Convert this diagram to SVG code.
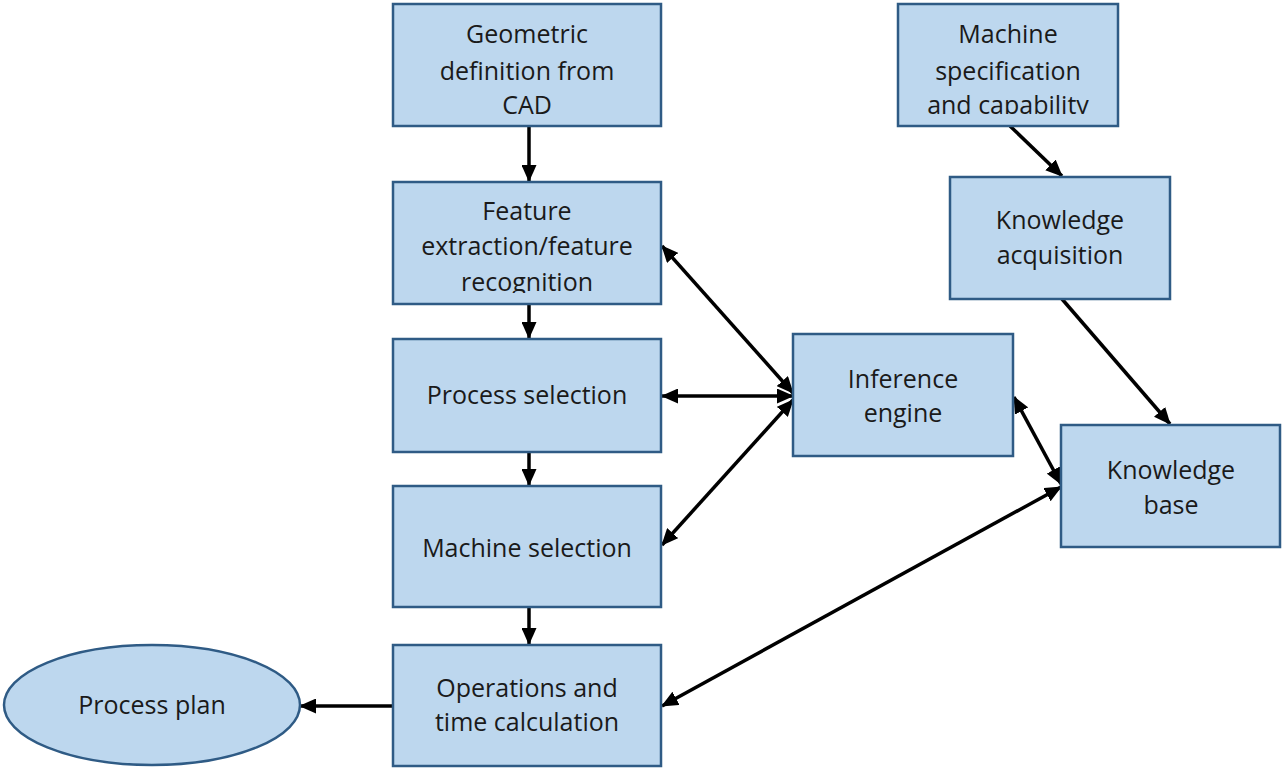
<svg xmlns="http://www.w3.org/2000/svg" width="1282" height="769" viewBox="0 0 1282 769">
<style>
.box{fill:#BDD7EE;stroke:#2F5B85;stroke-width:2.5}
.t{font-family:"Open Sans","Liberation Sans",sans-serif;font-size:25px;fill:#1a1a1a;text-anchor:middle}
.c{stroke:#000;stroke-width:3.5;fill:none}
</style>
<defs>
<marker id="ah" markerUnits="userSpaceOnUse" markerWidth="17" markerHeight="15" refX="16" refY="7.5" orient="auto-start-reverse" viewBox="0 0 17 15">
<path d="M0,0 L17,7.5 L0,15 Z" fill="#000"/>
</marker>
<clipPath id="clipFeat"><rect x="393" y="183" width="268" height="110"/></clipPath>
<clipPath id="clipSpec"><rect x="899" y="5" width="219" height="109"/></clipPath>
</defs>
<rect width="1282" height="769" fill="#fff"/>
<g id="connectors">
<line class="c" x1="529" y1="127" x2="529" y2="181" marker-end="url(#ah)"/>
<line class="c" x1="529" y1="304" x2="529" y2="338" marker-end="url(#ah)"/>
<line class="c" x1="529" y1="452" x2="529" y2="485" marker-end="url(#ah)"/>
<line class="c" x1="529" y1="607" x2="529" y2="644" marker-end="url(#ah)"/>
<line class="c" x1="392" y1="706" x2="300" y2="706" marker-end="url(#ah)"/>
<line class="c" x1="1010" y1="126" x2="1062" y2="176" marker-end="url(#ah)"/>
<line class="c" x1="1062" y1="299" x2="1170" y2="424" marker-end="url(#ah)"/>
<line class="c" x1="662" y1="246" x2="793" y2="393" marker-start="url(#ah)" marker-end="url(#ah)"/>
<line class="c" x1="662" y1="396" x2="793" y2="396" marker-start="url(#ah)" marker-end="url(#ah)"/>
<line class="c" x1="662" y1="545" x2="793" y2="400" marker-start="url(#ah)" marker-end="url(#ah)"/>
<line class="c" x1="1014" y1="397" x2="1061" y2="484" marker-start="url(#ah)" marker-end="url(#ah)"/>
<line class="c" x1="662" y1="706" x2="1061" y2="487" marker-start="url(#ah)" marker-end="url(#ah)"/>
</g>
<g id="geometric">
<rect class="box" x="393" y="4" width="268" height="122"/>
<text class="t" x="527" y="43">Geometric</text>
<text class="t" x="527" y="80">definition from</text>
<text class="t" x="527" y="114">CAD</text>
</g>
<g id="feature">
<rect class="box" x="393" y="182" width="268" height="122"/>
<g clip-path="url(#clipFeat)">
<text class="t" x="527" y="220">Feature</text>
<text class="t" x="527" y="255">extraction/feature</text>
<text class="t" x="527" y="291">recognition</text>
</g>
</g>
<g id="process-selection">
<rect class="box" x="393" y="339" width="268" height="113"/>
<text class="t" x="527" y="404">Process selection</text>
</g>
<g id="machine-selection">
<rect class="box" x="393" y="486" width="268" height="121"/>
<text class="t" x="527" y="557">Machine selection</text>
</g>
<g id="operations">
<rect class="box" x="393" y="645" width="268" height="121"/>
<text class="t" x="527" y="697">Operations and</text>
<text class="t" x="527" y="731">time calculation</text>
</g>
<g id="process-plan">
<ellipse class="box" cx="152" cy="705" rx="148" ry="60"/>
<text class="t" x="152" y="714">Process plan</text>
</g>
<g id="machine-spec">
<rect class="box" x="898" y="4" width="220" height="122"/>
<g clip-path="url(#clipSpec)">
<text class="t" x="1008" y="43">Machine</text>
<text class="t" x="1008" y="80">specification</text>
<text class="t" x="1008" y="114">and capability</text>
</g>
</g>
<g id="knowledge-acquisition">
<rect class="box" x="950" y="177" width="220" height="122"/>
<text class="t" x="1060" y="229">Knowledge</text>
<text class="t" x="1060" y="264">acquisition</text>
</g>
<g id="inference-engine">
<rect class="box" x="793" y="334" width="220" height="122"/>
<text class="t" x="903" y="388">Inference</text>
<text class="t" x="903" y="422">engine</text>
</g>
<g id="knowledge-base">
<rect class="box" x="1061" y="425" width="219" height="122"/>
<text class="t" x="1171" y="479">Knowledge</text>
<text class="t" x="1171" y="514">base</text>
</g>
</svg>
